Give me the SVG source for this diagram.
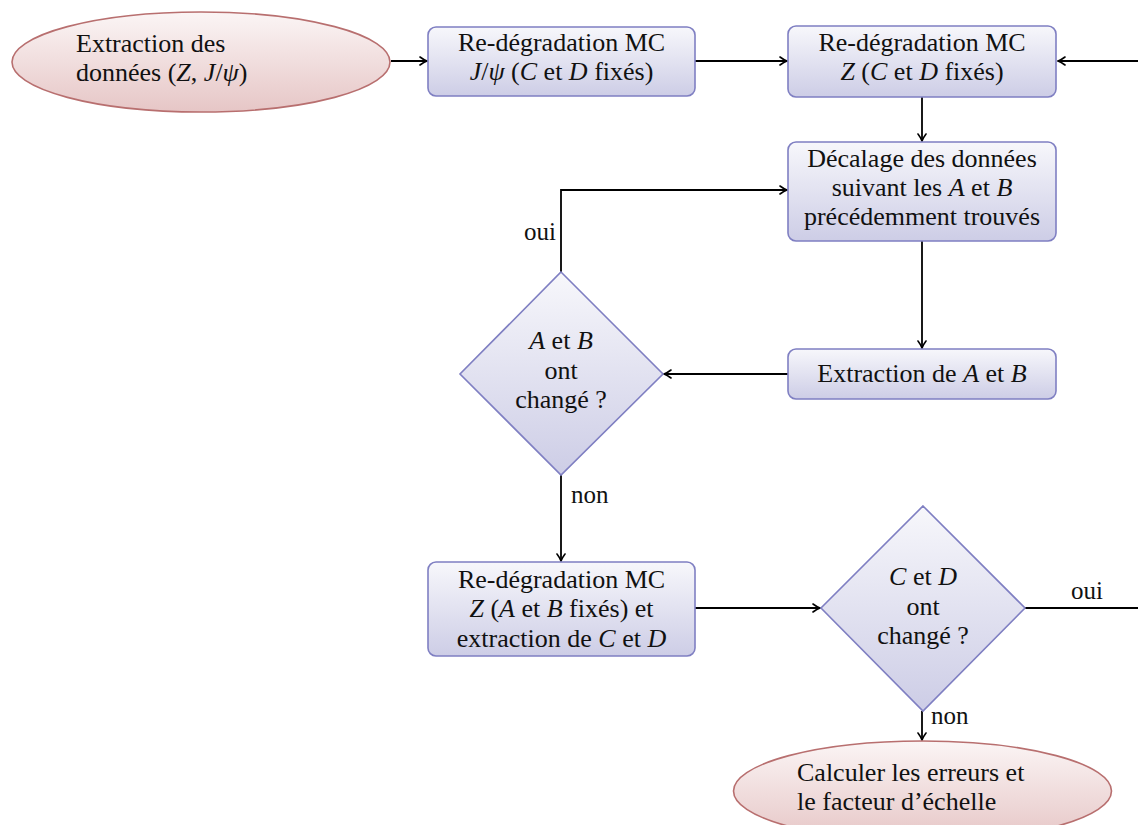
<svg xmlns="http://www.w3.org/2000/svg" width="1138" height="825" viewBox="0 0 1138 825">
<defs>
<linearGradient id="gb" x1="0" y1="0" x2="0" y2="1">
<stop offset="0" stop-color="#f7f7fb"/>
<stop offset="1" stop-color="#cdcde6"/>
</linearGradient>
<linearGradient id="gr" x1="0" y1="0" x2="0" y2="1">
<stop offset="0" stop-color="#fbf5f5"/>
<stop offset="1" stop-color="#e6c6c6"/>
</linearGradient>
<marker id="ar" viewBox="0 0 10 10" refX="9" refY="5" markerWidth="10" markerHeight="10" markerUnits="userSpaceOnUse" orient="auto">
<path d="M2,1 Q6,4 9,5 Q6,6 2,9" fill="none" stroke="#000" stroke-width="1.6" stroke-linecap="round"/>
</marker>
</defs>
<style>
text{font-family:"Liberation Serif","DejaVu Serif",serif;font-size:26px;fill:#111}
.c{text-anchor:middle}
.i{font-style:italic}
.box{fill:url(#gb);stroke:#7f7fc2;stroke-width:1.6}
.ell{fill:url(#gr);stroke:#b86f6f;stroke-width:1.6}
.ln{fill:none;stroke:#000;stroke-width:1.8}
.lbl{font-size:25px}
</style>
<g id="connectors">
<line class="ln" x1="391" y1="61" x2="427" y2="61" marker-end="url(#ar)"/>
<line class="ln" x1="695" y1="61" x2="787" y2="61" marker-end="url(#ar)"/>
<line class="ln" x1="1138" y1="61" x2="1058" y2="61" marker-end="url(#ar)"/>
<line class="ln" x1="922" y1="97" x2="922" y2="141" marker-end="url(#ar)"/>
<line class="ln" x1="922" y1="241" x2="922" y2="348" marker-end="url(#ar)"/>
<line class="ln" x1="788" y1="374" x2="664" y2="374" marker-end="url(#ar)"/>
<polyline class="ln" points="561,272 561,190 787,190" marker-end="url(#ar)"/>
<line class="ln" x1="561" y1="475" x2="561" y2="561" marker-end="url(#ar)"/>
<line class="ln" x1="695" y1="608" x2="820" y2="608" marker-end="url(#ar)"/>
<line class="ln" x1="1025" y1="608" x2="1138" y2="608"/>
<line class="ln" x1="922" y1="711" x2="922" y2="740" marker-end="url(#ar)"/>
<text x="556" y="240" text-anchor="end" class="lbl">oui</text>
<text x="571" y="503" class="lbl">non</text>
<text x="1071" y="599" class="lbl">oui</text>
<text x="931" y="724" class="lbl">non</text>
</g>
<g id="start">
<ellipse class="ell" cx="201" cy="62" rx="189" ry="50"/>
<text x="76" y="52">Extraction des</text>
<text x="76" y="81">données (<tspan class="i">Z</tspan>, <tspan class="i">J</tspan>/<tspan class="i">ψ</tspan>)</text>
</g>
<g id="mc-jpsi">
<rect class="box" x="428" y="27" width="267" height="69" rx="8"/>
<text class="c" x="561.5" y="51">Re-dégradation MC</text>
<text class="c" x="561.5" y="80"><tspan class="i">J</tspan>/<tspan class="i">ψ</tspan> (<tspan class="i">C</tspan> et <tspan class="i">D</tspan> fixés)</text>
</g>
<g id="mc-z">
<rect class="box" x="788" y="26" width="268" height="71" rx="8"/>
<text class="c" x="922" y="51">Re-dégradation MC</text>
<text class="c" x="922" y="80"><tspan class="i">Z</tspan> (<tspan class="i">C</tspan> et <tspan class="i">D</tspan> fixés)</text>
</g>
<g id="decalage">
<rect class="box" x="788" y="142" width="268" height="99" rx="8"/>
<text class="c" x="922" y="167">Décalage des données</text>
<text class="c" x="922" y="196">suivant les <tspan class="i">A</tspan> et <tspan class="i">B</tspan></text>
<text class="c" x="922" y="225">précédemment trouvés</text>
</g>
<g id="extract-ab">
<rect class="box" x="788" y="349" width="268" height="50" rx="8"/>
<text class="c" x="922" y="382">Extraction de <tspan class="i">A</tspan> et <tspan class="i">B</tspan></text>
</g>
<g id="ab-changed">
<polygon class="box" points="561,272 663,374 561,475 460,374"/>
<text class="c" x="561" y="349"><tspan class="i">A</tspan> et <tspan class="i">B</tspan></text>
<text class="c" x="561" y="379">ont</text>
<text class="c" x="561" y="408">changé ?</text>
</g>
<g id="mc-z-ab">
<rect class="box" x="428" y="562" width="267" height="94" rx="8"/>
<text class="c" x="561.5" y="588">Re-dégradation MC</text>
<text class="c" x="561.5" y="617"><tspan class="i">Z</tspan> (<tspan class="i">A</tspan> et <tspan class="i">B</tspan> fixés) et</text>
<text class="c" x="561.5" y="647">extraction de <tspan class="i">C</tspan> et <tspan class="i">D</tspan></text>
</g>
<g id="cd-changed">
<polygon class="box" points="923,506 1025,608 923,711 821,608"/>
<text class="c" x="923" y="585"><tspan class="i">C</tspan> et <tspan class="i">D</tspan></text>
<text class="c" x="923" y="615">ont</text>
<text class="c" x="923" y="644">changé ?</text>
</g>
<g id="end">
<ellipse class="ell" cx="922.5" cy="791" rx="189" ry="50"/>
<text x="797" y="781">Calculer les erreurs et</text>
<text x="797" y="810">le facteur d’échelle</text>
</g>
</svg>
